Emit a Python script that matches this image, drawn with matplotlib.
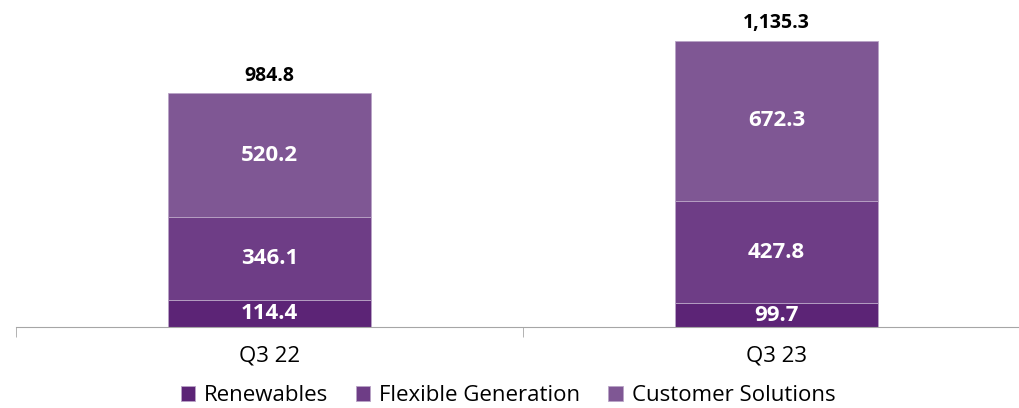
import numpy as np
import matplotlib
matplotlib.use("Agg")
import matplotlib.pyplot as plt

# datos
periodos = ["Q3 22", "Q3 23"]
renovables = [114.4, 99.7]
flexible = [346.1, 427.8]
clientes = [520.2, 672.3]
totales = ["984.8", "1,135.3"]

series = ["Renewables", "Flexible Generation", "Customer Solutions"]
colores = ["#5C2476", "#6E3D86", "#7F5794"]

plt.rcParams['font.family'] = ['Open Sans', 'DejaVu Sans']

fig = plt.figure(figsize=(10.2, 4.08), dpi=100)
ax = fig.add_axes([16/1020, 1 - 327/408, 1 - 16/1020, 327/408])

x = np.arange(len(periodos))
ancho = 0.4
base = np.zeros(len(periodos))
for valores, nombre, color in zip([renovables, flexible, clientes], series, colores):
    barras = ax.bar(x, valores, ancho, bottom=base, color=color, label=nombre,
                    edgecolor="#B9A3C6", linewidth=0.6)
    for xi, b, v in zip(x, base, valores):
        ax.text(xi, b + v / 2, f"{v:.1f}", ha="center", va="center",
                color="white", fontsize=16, fontweight="bold")
    base = base + np.array(valores)

# totales encima de cada barra
for xi, b, t in zip(x, base, totales):
    ax.text(xi, b + 72, t, ha="center", va="center", color="black",
            fontsize=14, fontweight="bold")

ax.set_yticks([])
for lado in ["top", "right", "left"]:
    ax.spines[lado].set_visible(False)
ax.spines["bottom"].set_color("#A6A6A6")

ax.set_xticks(x)
ax.set_xticklabels(periodos, fontsize=16)
ax.tick_params(axis="x", which="major", length=0, pad=13)
ax.set_xticks([-0.5, 0.5, 1.5], minor=True)
ax.tick_params(axis="x", which="minor", length=7, color="#A6A6A6")
# limites despues de los ticks
ax.set_xlim(-0.5, 1.48)
ax.set_ylim(0, 1370)

ax.legend(loc="center", bbox_to_anchor=(0.49, -0.21), ncol=3, frameon=False,
          fontsize=16, handlelength=0.65, handleheight=0.65, handletextpad=0.4,
          columnspacing=1.25)

fig.savefig("out.png", dpi=100)
